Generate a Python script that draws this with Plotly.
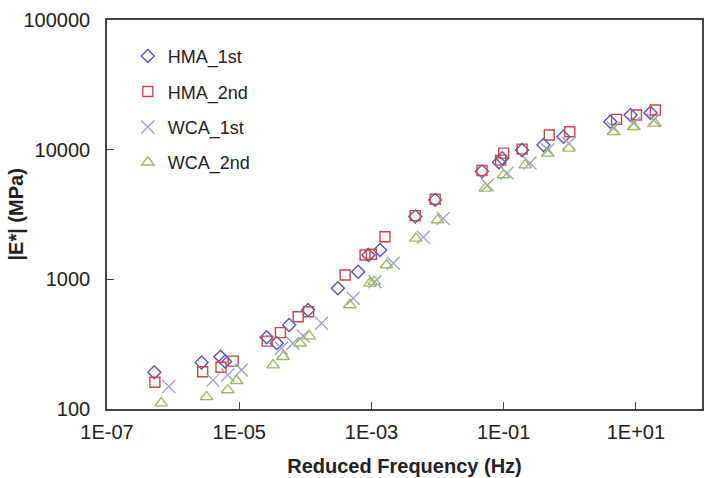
import plotly.graph_objects as go

# HMA_1st (diamonds)
hma1_freq = [5.2e-7, 2.7e-6, 5.2e-6, 6.1e-6, 2.6e-5, 3.7e-5, 5.7e-5, 1.1e-4, 3.1e-4, 6.3e-4,
             9.0e-4, 1.35e-3, 4.6e-3, 9.2e-3, 0.047, 0.085, 0.095, 0.19, 0.40, 0.80, 4.1, 8.3, 16.6]
hma1_mod = [192, 228, 253, 232, 357, 321, 444, 580, 852, 1145,
            1540, 1683, 3050, 4100, 6800, 8000, 8600, 9930, 10850, 12580, 16400, 18500, 19300]

# HMA_2nd (squares)
hma2_freq = [5.3e-7, 2.8e-6, 5.3e-6, 8.1e-6, 2.65e-5, 4.2e-5, 7.8e-5, 1.12e-4, 4.0e-4, 8.0e-4,
             1.0e-3, 1.6e-3, 4.6e-3, 9.2e-3, 0.047, 0.09, 0.10, 0.19, 0.49, 1.0, 5.1, 10.2, 19.7]
hma2_mod = [161, 194, 210, 234, 334, 388, 515, 563, 1080, 1540,
            1560, 2130, 3100, 4150, 6900, 8300, 9400, 10100, 12960, 13740, 17130, 18490, 20200]

# WCA_1st (crosses)
wca1_freq = [8.6e-7, 4.0e-6, 6.7e-6, 1.08e-5, 4.35e-5, 6.5e-5, 9.3e-5, 1.76e-4, 5.3e-4, 1.13e-3,
             2.14e-3, 6.1e-3, 1.22e-2, 0.057, 0.113, 0.25, 0.465, 0.97, 4.6, 9.3, 18.6]
wca1_mod = [149, 167, 183, 200, 294, 321, 365, 458, 714, 958,
            1328, 2110, 2950, 5335, 6600, 7880, 9930, 11180, 14600, 15950, 16910]

# WCA_2nd (triangles)
wca2_freq = [6.6e-7, 3.2e-6, 6.7e-6, 9.1e-6, 3.25e-5, 4.6e-5, 8.3e-5, 1.15e-4, 4.7e-4, 9.5e-4,
             1.1e-3, 1.7e-3, 4.7e-3, 1.0e-2, 0.0525, 0.099, 0.212, 0.465, 0.97, 4.6, 9.3, 19.5]
wca2_mod = [111, 124, 140, 165, 218, 253, 321, 365, 634, 931,
            960, 1289, 2070, 2866, 5030, 6370, 7605, 9366, 10240, 13740, 15020, 15950]

x_tickvals = [1e-7, 1e-5, 1e-3, 1e-1, 1e1]
x_ticktext = ["1E-07", "1E-05", "1E-03", "1E-01", "1E+01"]
y_tickvals = [100, 1000, 10000, 100000]
y_ticktext = ["100", "1000", "10000", "100000"]

FONT = "Liberation Sans, Arial, sans-serif"
NBSP = "\u00a0\u00a0"

series = [
    ("HMA_1st", hma1_freq, hma1_mod, "diamond-open", "#5656b4", 10),
    ("HMA_2nd", hma2_freq, hma2_mod, "square-open", "#c8474a", 10),
    ("WCA_1st", wca1_freq, wca1_mod, "x-thin-open", "#a2a2cc", 13),
    ("WCA_2nd", wca2_freq, wca2_mod, "triangle-up-open", "#9dbb5c", 11),
]

fig = go.Figure()
for name, xs, ys, sym, col, sz in series:
    fig.add_trace(go.Scatter(
        x=xs, y=ys, mode="markers", name=name, legendgroup=name,
        marker=dict(symbol=sym, size=sz, color=col, line=dict(color=col, width=1.4)),
    ))

axis_common = dict(
    showline=True, linecolor="#444444", linewidth=1.5, mirror=True,
    showgrid=False, zeroline=False, ticks="inside", ticklen=7, tickwidth=1.3,
    tickcolor="#444444",
    tickfont=dict(family=FONT, size=20, color="#222222"),
    automargin=False,
)

fig.update_layout(
    width=709, height=478,
    margin=dict(l=107, r=7, t=20, b=69),
    paper_bgcolor="white", plot_bgcolor="white",
    showlegend=True,
    legend=dict(
        x=0.035, y=0.954, xanchor="left", yanchor="top",
        font=dict(family=FONT, size=18, color="#222222"),
        bgcolor="rgba(0,0,0,0)", traceorder="grouped", tracegroupgap=9,
        itemwidth=30,
    ),
    xaxis=dict(
        type="log", range=[-7, 2], tickvals=x_tickvals, ticktext=x_ticktext,
        ticklabelstandoff=4,
        title=dict(text="<b>Reduced Frequency (Hz)</b>",
                   font=dict(family=FONT, size=20, color="#222222"), standoff=17),
        **axis_common,
    ),
    yaxis=dict(
        type="log", range=[2, 5], tickvals=y_tickvals,
        ticktext=[t + NBSP for t in y_ticktext],
        **axis_common,
    ),
    annotations=[dict(
        text="<b>|E*| (MPa)</b>", xref="paper", yref="paper",
        x=-0.1546, y=0.5, xanchor="center", yanchor="middle",
        textangle=-90, showarrow=False,
        font=dict(family=FONT, size=20, color="#222222"),
    )],
)

fig.write_html("out.html")
